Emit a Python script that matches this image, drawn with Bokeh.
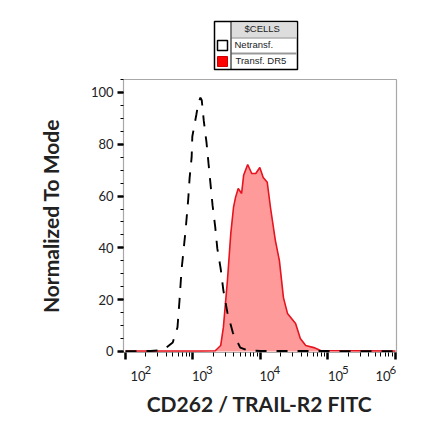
import math
from bokeh.plotting import figure
from bokeh.layouts import column
from bokeh.models import Label, BoxAnnotation, FixedTicker, Range1d
from bokeh.embed import file_html
from bokeh.resources import INLINE

control_x = [100, 234, 331, 389, 501, 589, 631, 676, 776, 851, 891, 955, 977, 1122, 1202, 1288, 1349, 1445,
             1585, 1698, 1820, 1950, 2138, 2291, 2570, 2818, 3236, 3890, 5012, 6457, 10000, 38900, 1000000]
control_y = [0.1, 0.2, 0.5, 1.2, 3.5, 9.3, 19.7, 31.4, 46.7, 59, 67, 75, 83, 91.5, 96, 98, 97, 89,
             80.7, 72.6, 64.5, 56.4, 47.9, 39.8, 32, 23.6, 15, 7.3, 1.5, 0.4, 0.2, 0.2, 0.1]
dr5_x = [100, 1288, 2138, 2570, 2818, 3236, 3631, 3981, 4266, 4677, 5248, 5623, 6457, 7413, 8511, 9772, 10965,
         12589, 14125, 16596, 19055, 21878, 25119, 33113, 38905, 46774, 61660, 77625, 1000000]
dr5_y = [0.2, 0.2, 0.3, 2.3, 9.3, 27.4, 45.6, 55.6, 59.5, 62.9, 61, 68, 72.2, 68.7, 68.7, 71, 67.2,
         65.3, 55.2, 42.9, 35.1, 20.8, 14.7, 10.8, 5, 2.3, 1.5, 0.4, 0.2]
y_ticks = [0, 20, 40, 60, 80, 100]
x_ticks = [1e2, 1e3, 1e4, 1e5, 1e6]
x_bases = ["10", "10", "10", "10", "10"]
x_exps = ["2", "3", "4", "5", "6"]
x_nudge = [5, -1, -1, 0, -20]
x_title = "CD262 / TRAIL-R2 FITC"
y_title = "Normalized To Mode"
legend_title = "$CELLS"
legend_names = ["Netransf.", "Transf. DR5"]

FONT = "Lato"
W = 432
TOP_H, MAIN_H, FOOT_H = 75, 286, 71
DEC, X0 = 67.5, 125   # pixels per decade, page position of 10^2

# ---- legend strip (its frame fills the strip, so nothing is clipped)
top = figure(width=W, height=TOP_H, output_backend="svg", toolbar_location=None,
             x_axis_location=None, y_axis_location=None, x_range=Range1d(0, W), y_range=Range1d(0, TOP_H),
             min_border=0, background_fill_color="white", border_fill_color="white")
top.grid.visible = False
top.outline_line_color = None

def box(l, t, r, b, color, line=None, lw=1):
    top.add_layout(BoxAnnotation(left=l, right=r, top=t, bottom=b,
                                 left_units="canvas", right_units="canvas", top_units="canvas", bottom_units="canvas",
                                 fill_color=color, fill_alpha=1, line_color=line, line_width=lw, line_alpha=1 if line else 0))

def text(x, y, s):
    top.add_layout(Label(x=x, y=y, text=s, x_units="canvas", y_units="canvas",
                         text_font="Liberation Sans", text_font_size="9.5px", text_color="#222222"))

box(214, 21, 297, 69, "white", "black", 1.5)
box(231, 22, 296, 37, "#dddddd")
box(231, 37, 296, 38, "#888888")
box(231, 52, 296, 54, "#999999")
box(230, 21, 231, 69, "black")
box(217, 40, 227, 50, "white", "black", 1.5)
box(217, 56, 227, 66, "#ff0000", "#cc0000", 1)
text(244, 33, legend_title)
text(234, 49, legend_names[0])
text(235, 65, legend_names[1])

# ---- main plot
p = figure(width=W, height=MAIN_H, output_backend="svg", toolbar_location=None,
           x_axis_type="log", x_range=Range1d(93.4, 1.035e6), y_range=Range1d(-0.39, 105),
           min_border_left=123, min_border_right=36, min_border_top=4, min_border_bottom=9,
           background_fill_color="white", border_fill_color="white")
p.grid.visible = False
p.outline_line_color = "#a8a8a8"
p.outline_line_width = 1.2

p.varea(dr5_x, 0, dr5_y, fill_color="#ff9a9a")
p.line(dr5_x, dr5_y, line_color="#e5141f", line_width=1.6)
p.line(control_x, control_y, line_color="black", line_width=1.9, line_dash=[11, 10])

xa = p.xaxis[0]
xa.ticker = FixedTicker(ticks=x_ticks, minor_ticks=[m * 10**e for e in (2, 3, 4, 5) for m in range(2, 10)])
xa.major_label_text_font_size = "1px"
xa.major_label_text_alpha = 0
xa.major_label_standoff = 0
xa.axis_line_color = "#a8a8a8"
xa.major_tick_line_color = "black"; xa.major_tick_line_width = 2.5
xa.major_tick_in = 0; xa.major_tick_out = 7
xa.minor_tick_line_color = "black"; xa.minor_tick_line_width = 1
xa.minor_tick_in = 0; xa.minor_tick_out = 4

ya = p.yaxis[0]
ya.ticker = FixedTicker(ticks=y_ticks, minor_ticks=list(range(0, 106, 5)))
ya.axis_line_color = "#a8a8a8"
ya.major_tick_line_color = "black"; ya.major_tick_line_width = 2.5
ya.major_tick_in = 0; ya.major_tick_out = 6
ya.minor_tick_line_color = "black"; ya.minor_tick_line_width = 1
ya.minor_tick_in = 0; ya.minor_tick_out = 3
ya.major_label_text_font = FONT; ya.major_label_text_font_size = "13px"
ya.major_label_text_color = "#222222"; ya.major_label_standoff = 4
ya.axis_label = y_title
ya.axis_label_text_font = FONT; ya.axis_label_text_font_style = "bold"
ya.axis_label_text_font_size = "21px"; ya.axis_label_text_color = "#222222"
ya.axis_label_standoff = 25

# ---- footer: tick labels and x title, placed by the plot's own decade spacing
foot = figure(width=W, height=FOOT_H, output_backend="svg", toolbar_location=None,
              x_axis_location=None, y_axis_location=None,
              x_range=Range1d(0, W), y_range=Range1d(0, FOOT_H),
              min_border=0, background_fill_color="white", border_fill_color="white")
foot.grid.visible = False
foot.outline_line_color = None
for tick, base, exp, dx in zip(x_ticks, x_bases, x_exps, x_nudge):
    sx = X0 + DEC * (math.log10(tick) - 2) + dx
    foot.add_layout(Label(x=sx, y=19, x_units="canvas", y_units="canvas", text=base, text_font=FONT,
                          text_font_size="13px", text_color="#222222"))
    foot.add_layout(Label(x=sx + 14, y=12, x_units="canvas", y_units="canvas", text=exp, text_font=FONT,
                          text_font_size="11.5px", text_color="#222222"))
foot.add_layout(Label(x=259, y=42, x_units="canvas", y_units="canvas", text=x_title, text_align="center",
                      text_baseline="middle", text_font=FONT, text_font_style="bold", text_font_size="21px",
                      text_color="#222222"))

open("out.html", "w").write(file_html(column(top, p, foot, spacing=0), INLINE))
